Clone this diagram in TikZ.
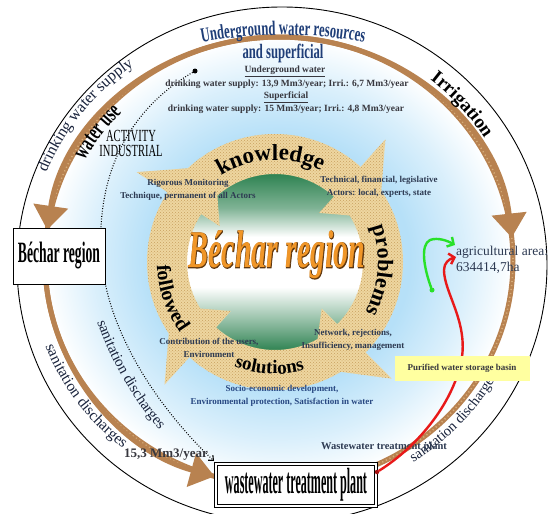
\documentclass[tikz,border=0pt]{standalone}
\usepackage{fontspec}
\setmainfont{Liberation Serif}
\newfontfamily\narrowserif[FakeStretch=0.62]{Liberation Serif}
\newfontfamily\edgeserif[FakeBold=2.5]{Liberation Serif}
\usepackage{graphicx}
\usetikzlibrary{arrows.meta,calc,decorations.text,patterns}

\definecolor{titleblue}{RGB}{31,62,120}
\definecolor{graytxt}{RGB}{55,55,62}
\definecolor{slatetxt}{RGB}{45,58,82}
\definecolor{bluetxt}{RGB}{40,72,130}
\definecolor{ringtxt}{RGB}{25,35,60}
\definecolor{ringbrown}{RGB}{184,130,80}
\definecolor{ringlight}{RGB}{214,172,120}
\definecolor{sandfill}{RGB}{238,214,160}
\definecolor{sanddot}{RGB}{200,160,95}
\definecolor{coregreen}{RGB}{42,128,78}
\definecolor{coreorange}{RGB}{240,150,40}
\definecolor{coreline}{RGB}{95,55,15}
\definecolor{skyb}{RGB}{182,224,248}
\colorlet{skymid}{skyb!50!white}
\colorlet{greenmid}{coregreen!60!white}
\definecolor{basinyellow}{RGB}{255,255,160}
\definecolor{arrowgreen}{RGB}{40,225,40}
\definecolor{arrowred}{RGB}{232,25,25}

\pgfdeclareradialshading{skyglow}{\pgfpoint{0bp}{0bp}}{color(0bp)=(skyb); color(14bp)=(skyb); color(20bp)=(skymid); color(25bp)=(white); color(50bp)=(white)}
\pgfdeclareverticalshading{greencore}{100bp}{color(0bp)=(coregreen); color(25bp)=(coregreen); color(32bp)=(greenmid); color(43bp)=(white); color(57bp)=(white); color(65bp)=(greenmid); color(75bp)=(coregreen); color(100bp)=(coregreen)}

\newcommand{\cyclefont}[1]{\color{black}\fontsize{#1}{#1}\selectfont\bfseries}
\newcommand{\ringfont}[1]{\color{ringtxt}\fontsize{#1}{#1}\selectfont}
\newcommand{\ugtitlefont}{\color{titleblue}\narrowserif\bfseries\fontsize{20.5}{20.5}\selectfont}
\newcommand{\usagefont}{\color{black}\narrowserif\bfseries\fontsize{24}{24}\selectfont}
\newcommand{\irrifont}{\color{black}\bfseries\fontsize{19}{19}\selectfont}

\begin{document}
\begin{tikzpicture}[x=1pt, y=-1pt,
  note/.style={font=\fontsize{9}{12.5}\selectfont\bfseries, text=slatetxt, align=center, inner sep=0pt},
  headnote/.style={font=\fontsize{9.5}{11}\selectfont\bfseries, text=graytxt, inner sep=0pt},
  ringline/.style={draw=ringbrown, line width=5pt},
  ringtip/.style={-{Triangle[width=34pt, length=24pt]}},
  sand/.style={fill=sandfill, postaction={pattern=crosshatch dots, pattern color=sanddot}},
  flow/.style={line width=2.4pt, line cap=round, -{Straight Barb[length=5pt, width=11pt]}},
  curvetext/.style={decorate, decoration={text along path, text align=center, text={#1}}}]

  \useasboundingbox (0,0) rectangle (550,514);
  \coordinate (rc) at (279,261);
  \coordinate (cc) at (275,262);

  % Outer frame and sky background
  \draw[line width=0.9pt, fill=white] (282,265) ellipse [x radius=265, y radius=258];
  \shade[shading=skyglow] (rc) ellipse [x radius=234, y radius=224];

  % Brown flow ring
  \draw[ringline] (rc) ellipse [x radius=234, y radius=224];
  \draw[ringlight, line width=1.6pt, dash pattern=on 1.2pt off 2.8pt] (rc) ellipse [x radius=234, y radius=224];
  \draw[ringline, ringtip] ($(rc)+(270:234 and 224)$) arc [start angle=270, end angle=188, x radius=234, y radius=224];
  \draw[ringline, ringtip] ($(rc)+(270:234 and 224)$) arc [start angle=270, end angle=354, x radius=234, y radius=224];
  \draw[ringline, ringtip] ($(rc)+(174:234 and 224)$) arc [start angle=174, end angle=106, x radius=234, y radius=224];

  % Dotted water use line
  \node[circle, fill=black, inner sep=0pt, minimum size=5pt] (wdot) at (195,71) {};
  \coordinate (dtip) at (214,461);
  \draw[line width=1.1pt, dash pattern=on 0.9pt off 1.7pt, -{Straight Barb[length=4pt, width=7pt]}] (wdot) .. controls (120,115) and (98,185) .. (101,250) .. controls (104,330) and (160,410) .. (dtip);

  % Central cycle
  \shade[shading=greencore] (cc) circle [radius=90];
  \fill[sand, even odd rule] (cc) circle [radius=128] (cc) circle [radius=88];
  \foreach \b in {-48,45,132,213}
    \fill[sand] ($(cc)+(\b:165)$) -- ($(cc)+({\b+25}:113)$) -- ($(cc)+(\b:66)$) -- cycle;

  % Core title
  \node[text=coreline] (coreedge) at (277,255) {\resizebox*{177pt}{48pt}{\edgeserif\bfseries\itshape Béchar region}};
  \node[text=coreorange] (core) at (277,255) {\resizebox*{177pt}{48pt}{\bfseries\itshape Béchar region}};

  % Cycle words
  \path[curvetext={|\cyclefont{23}|knowledge}] ($(cc)+(-130:102)$) arc [start angle=-130, end angle=-55, radius=102];
  \path[curvetext={|\cyclefont{22}|problems}] ($(cc)+(-26:103)$) arc [start angle=-26, end angle=35, radius=103];
  \path[curvetext={|\cyclefont{19}|solutions}] ($(cc)+(118:112)$) arc [start angle=118, end angle=68, radius=112];
  \path[curvetext={|\cyclefont{20}|followed}] ($(cc)+(186:118)$) arc [start angle=186, end angle=136, radius=118];

  % Notes inside cycle
  \node[note] (monitor) at (188,190) {Rigorous Monitoring\\Technique, permanent of all Actors};
  \node[note] (actors) at (379,187) {Technical, financial, legislative\\Actors: local, experts, state};
  \node[note] (network) at (353,340) {Network, rejections,\\Insufficiency, management};
  \node[note] (users) at (209,348) {Contribution of the users,\\Environment};
  \node[note, text=bluetxt] (socio) at (282,396) {Socio-economic development,\\Environmental protection, Satisfaction in water};

  % Water resources
  \path[curvetext={|\ugtitlefont|Underground water resources}] ($(283,492)+(-104:457)$) arc [start angle=-104, end angle=-76, radius=457];
  \node[font=\narrowserif\bfseries\fontsize{20.5}{20.5}\selectfont, text=titleblue, inner sep=0pt] (super) at (283,53) {and superficial};
  \node[headnote] (under) at (285,71) {\underline{Underground water}};
  \node[headnote] (underval) at (287,84) {drinking water supply: 13,9 Mm3/year; Irri.: 6,7 Mm3/year};
  \node[headnote] (surf) at (286,97) {\underline{Superficial}};
  \node[headnote] (surfval) at (286,109) {drinking water supply: 15 Mm3/year; Irri.: 4,8 Mm3/year};

  % Ring labels
  \path[curvetext={|\ringfont{16}|drinking water supply}] ($(rc)+(197:250 and 240)$) arc [start angle=197, end angle=239, x radius=250, y radius=240];
  \path[curvetext={|\usagefont|water use}] ($(rc)+(199:221 and 211)$) arc [start angle=199, end angle=234, x radius=221, y radius=211];
  \path[curvetext={|\irrifont|Irrigation}] ($(rc)+(-62:242 and 232)$) arc [start angle=-62, end angle=-21, x radius=242, y radius=232];
  \path[curvetext={|\ringfont{15.5}|sanitation discharges}] ($(rc)+(166:250 and 240)$) arc [start angle=166, end angle=122, x radius=250, y radius=240];
  \path[curvetext={|\ringfont{14.5}|sanitation discharges}] ($(rc)+(64:249 and 239)$) arc [start angle=64, end angle=22, x radius=249, y radius=239];
  \path[curvetext={|\ringfont{15}|sanitation discharges}] ($(423,206)+(163:346)$) arc [start angle=163, end angle=137, radius=346];

  % Region box
  \node[draw, line width=0.8pt, fill=white, minimum width=92pt, minimum height=56pt, inner sep=0pt] (bechar) at (59,256) {\resizebox*{82pt}{27pt}{\bfseries Béchar region}};

  % Industrial activity
  \node[font=\narrowserif\fontsize{17}{15}\selectfont, align=center, inner sep=0pt] (industry) at (131,143) {ACTIVITY\\INDUSTRIAL};

  % Discharge volume and plant label
  \node[font=\bfseries\fontsize{13}{13}\selectfont, text=graytxt, inner sep=0pt] (volume) at (166,455) {15,3 Mm3/year};
  \node[font=\bfseries\fontsize{10.5}{10.5}\selectfont, text=slatetxt, inner sep=0pt] (plantlabel) at (384,447) {Wastewater treatment plant};

  % Treatment plant box
  \node[draw, double, double distance=1.8pt, line width=0.7pt, fill=white, minimum width=160pt, minimum height=42pt, inner sep=0pt] (wwtp) at (296,485) {\resizebox*{142pt}{33pt}{\bfseries wastewater treatment plant}};

  % Reuse for agriculture
  \node[font=\fontsize{13.5}{16}\selectfont, text=slatetxt, align=left, anchor=west, inner sep=0pt] (agri) at (456,260) {agricultural area:\\634414,7ha};
  \node[circle, fill=arrowgreen, inner sep=0pt, minimum size=5pt] (gdot) at (432,290) {};
  \node[circle, fill=arrowred!70!black, inner sep=0pt, minimum size=4.5pt] (rdot) at (377,472) {};
  \coordinate (gtip) at (455,245);
  \coordinate (rtip) at (456,257);
  \draw[flow, arrowgreen] (gdot) .. controls (424,268) and (420,245) .. (430,240) .. controls (438,237) and (448,241) .. (gtip);
  \draw[flow, arrowred] (rdot) .. controls (420,445) and (455,400) .. (462,357) .. controls (467,320) and (444,292) .. (444,270) .. controls (444,263) and (449,259) .. (rtip);

  % Storage basin
  \node[fill=basinyellow, minimum width=135pt, minimum height=25pt, font=\bfseries\fontsize{9}{9}\selectfont, text=graytxt] (basin) at (462,368) {Purified water storage basin};
\end{tikzpicture}
\end{document}
